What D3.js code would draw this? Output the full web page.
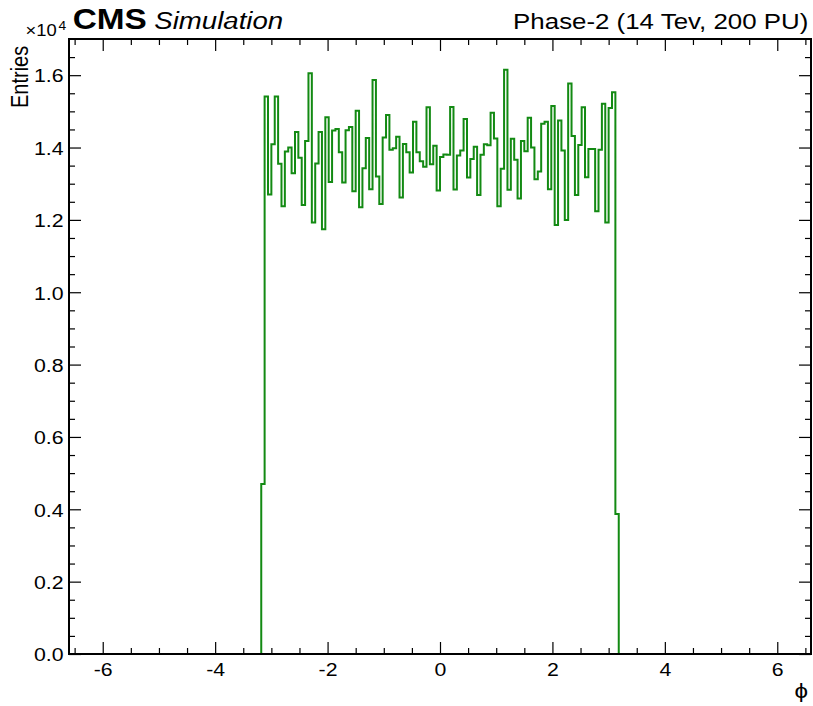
<!DOCTYPE html>
<html>
<head>
<meta charset="utf-8">
<script src="https://cdn.jsdelivr.net/npm/d3@7"></script>
<style>
  html, body { margin: 0; padding: 0; background: #fff; }
  svg { display: block; }
  text { font-family: "Liberation Sans", Arial, Helvetica, sans-serif; fill: #000; }
</style>
</head>
<body>
<svg id="chart" width="813" height="706"></svg>
<script>
// ---------------- DATA ----------------
// Histogram of phi: bins of width 0.06 starting at -3.18 (entries per bin)
const binLow = -3.18;
const binWidth = 0.06;
const entries = [
  4700, 15410, 12700, 14090, 15410, 13550, 12380, 13890, 14000, 13290,
  14430, 13720, 12410, 14180, 16050, 11930, 13560, 14430, 11740, 14840,
  13050, 14470, 14510, 13870, 13030, 14480, 14570, 12790, 15020, 12350,
  13430, 14260, 12850, 15870, 13200, 12440, 14280, 14900, 13940, 13980,
  14300, 12620, 14100, 13870, 13310, 14710, 13870, 13620, 13470, 15110,
  13540, 14050, 12810, 13740, 13810, 13800, 15120, 12840, 13780, 13920,
  14790, 13170, 13680, 14020, 12690, 13800, 14090, 14060, 14960, 14250,
  12380, 13410, 16150, 12830, 14240, 13660, 12590, 14180, 13900, 14820,
  14000, 13120, 13340, 14660, 14710, 12850, 15150, 11860, 14750, 13920,
  12000, 15770, 14320, 12690, 14070, 15110, 13180, 13960, 13960, 12240,
  13940, 15210, 11930, 15090, 15530, 3870
];
const xMajorTicks = [-6, -4, -2, 0, 2, 4, 6];
const xMinorTicks = [-6.5, -5.5, -5, -4.5, -3.5, -3, -2.5, -1.5, -1, -0.5, 0.5, 1, 1.5, 2.5, 3, 3.5, 4.5, 5, 5.5, 6.5];
const yMajorTicks = [0, 2000, 4000, 6000, 8000, 10000, 12000, 14000, 16000];
const yMinorTicks = [500, 1000, 1500, 2500, 3000, 3500, 4500, 5000, 5500, 6500, 7000, 7500,
  8500, 9000, 9500, 10500, 11000, 11500, 12500, 13000, 13500, 14500, 15000, 15500, 16500];
const xDomain = [-6.6, 6.6];
const yDomain = [0, 17000];
const yExponent = 4;

// ---------------- LAYOUT ----------------
const svg = d3.select("#chart");
const L = 69, R = 811, T = 39, B = 654;
const SX = 1.15; // horizontal glyph stretch of the reference
const x = d3.scaleLinear().domain(xDomain).range([L, R]);
const y = d3.scaleLinear().domain(yDomain).range([B, T]);
const lineColor = "#138a13";

// ---------------- HISTOGRAM ----------------
const pts = [[binLow, 0]];
entries.forEach((v, i) => {
  const lo = binLow + i * binWidth, hi = binLow + (i + 1) * binWidth;
  pts.push([lo, v], [hi, v]);
});
pts.push([binLow + entries.length * binWidth, 0]);
svg.append("path")
  .attr("d", d3.line().x(d => x(d[0])).y(d => y(d[1]))(pts))
  .attr("fill", "none")
  .attr("stroke", lineColor)
  .attr("stroke-width", 2)
  .attr("stroke-linejoin", "miter");

// ---------------- AXES ----------------
function styleAxis(g) {
  g.select(".domain").remove();
  g.attr("font-family", null).attr("font-size", null);
  g.selectAll(".tick line").attr("stroke", "#000").attr("stroke-width", 1.2);
}
// bottom
const gb = svg.append("g").attr("transform", `translate(0,${B})`)
  .call(d3.axisBottom(x).tickValues(xMajorTicks).tickSize(-12).tickFormat(d => String(d)));
styleAxis(gb);
gb.selectAll(".tick text")
  .attr("y", null).attr("dy", null)
  .attr("font-size", 18.5)
  .attr("text-anchor", "middle")
  .attr("transform", `translate(0,22) scale(${SX},1)`);
svg.append("g").attr("transform", `translate(0,${B})`)
  .call(d3.axisBottom(x).tickValues(xMinorTicks).tickSize(-6).tickFormat(""))
  .call(styleAxis);
// top
svg.append("g").attr("transform", `translate(0,${T})`)
  .call(d3.axisTop(x).tickValues(xMajorTicks).tickSize(-12).tickFormat(""))
  .call(styleAxis);
svg.append("g").attr("transform", `translate(0,${T})`)
  .call(d3.axisTop(x).tickValues(xMinorTicks).tickSize(-6).tickFormat(""))
  .call(styleAxis);
// left
const gl = svg.append("g").attr("transform", `translate(${L},0)`)
  .call(d3.axisLeft(y).tickValues(yMajorTicks).tickSize(-12)
    .tickFormat(d => (d / Math.pow(10, yExponent)).toFixed(1)));
styleAxis(gl);
gl.selectAll(".tick text")
  .attr("x", null).attr("dy", null)
  .attr("font-size", 18.5)
  .attr("text-anchor", "end")
  .attr("transform", `translate(-5.5,6.8) scale(${SX},1)`);
svg.append("g").attr("transform", `translate(${L},0)`)
  .call(d3.axisLeft(y).tickValues(yMinorTicks).tickSize(-6).tickFormat(""))
  .call(styleAxis);
// right
svg.append("g").attr("transform", `translate(${R},0)`)
  .call(d3.axisRight(y).tickValues(yMajorTicks).tickSize(-12).tickFormat(""))
  .call(styleAxis);
svg.append("g").attr("transform", `translate(${R},0)`)
  .call(d3.axisRight(y).tickValues(yMinorTicks).tickSize(-6).tickFormat(""))
  .call(styleAxis);

// frame
svg.append("rect")
  .attr("x", L).attr("y", T).attr("width", R - L).attr("height", B - T)
  .attr("fill", "none").attr("stroke", "#000").attr("stroke-width", 2);

// ---------------- TEXTS ----------------
function txt(str, tx, ty, opts = {}) {
  const t = svg.append("text")
    .attr("transform", `translate(${tx},${ty}) scale(${SX},1)` + (opts.rotate ? ` rotate(${opts.rotate})` : ""))
    .attr("font-size", opts.size || 18)
    .attr("text-anchor", opts.anchor || "start")
    .text(str);
  if (opts.weight) t.attr("font-weight", opts.weight);
  if (opts.style) t.attr("font-style", opts.style);
  return t;
}
txt("CMS", 72.7, 28.5, { size: 29, weight: "bold" });
txt("Simulation", 154.3, 28.5, { size: 24, style: "italic" });
txt("Phase-2 (14 Tev, 200 PU)", 808.3, 28.5, { size: 22.5, anchor: "end" });
txt("×10", 25.5, 35.5, { size: 16 });
txt(String(yExponent), 58.5, 30, { size: 12 });
txt("Entries", 28, 108, { size: 20, rotate: -90 });
txt("ϕ", 808, 698, { size: 21, anchor: "end" });
</script>
</body>
</html>
